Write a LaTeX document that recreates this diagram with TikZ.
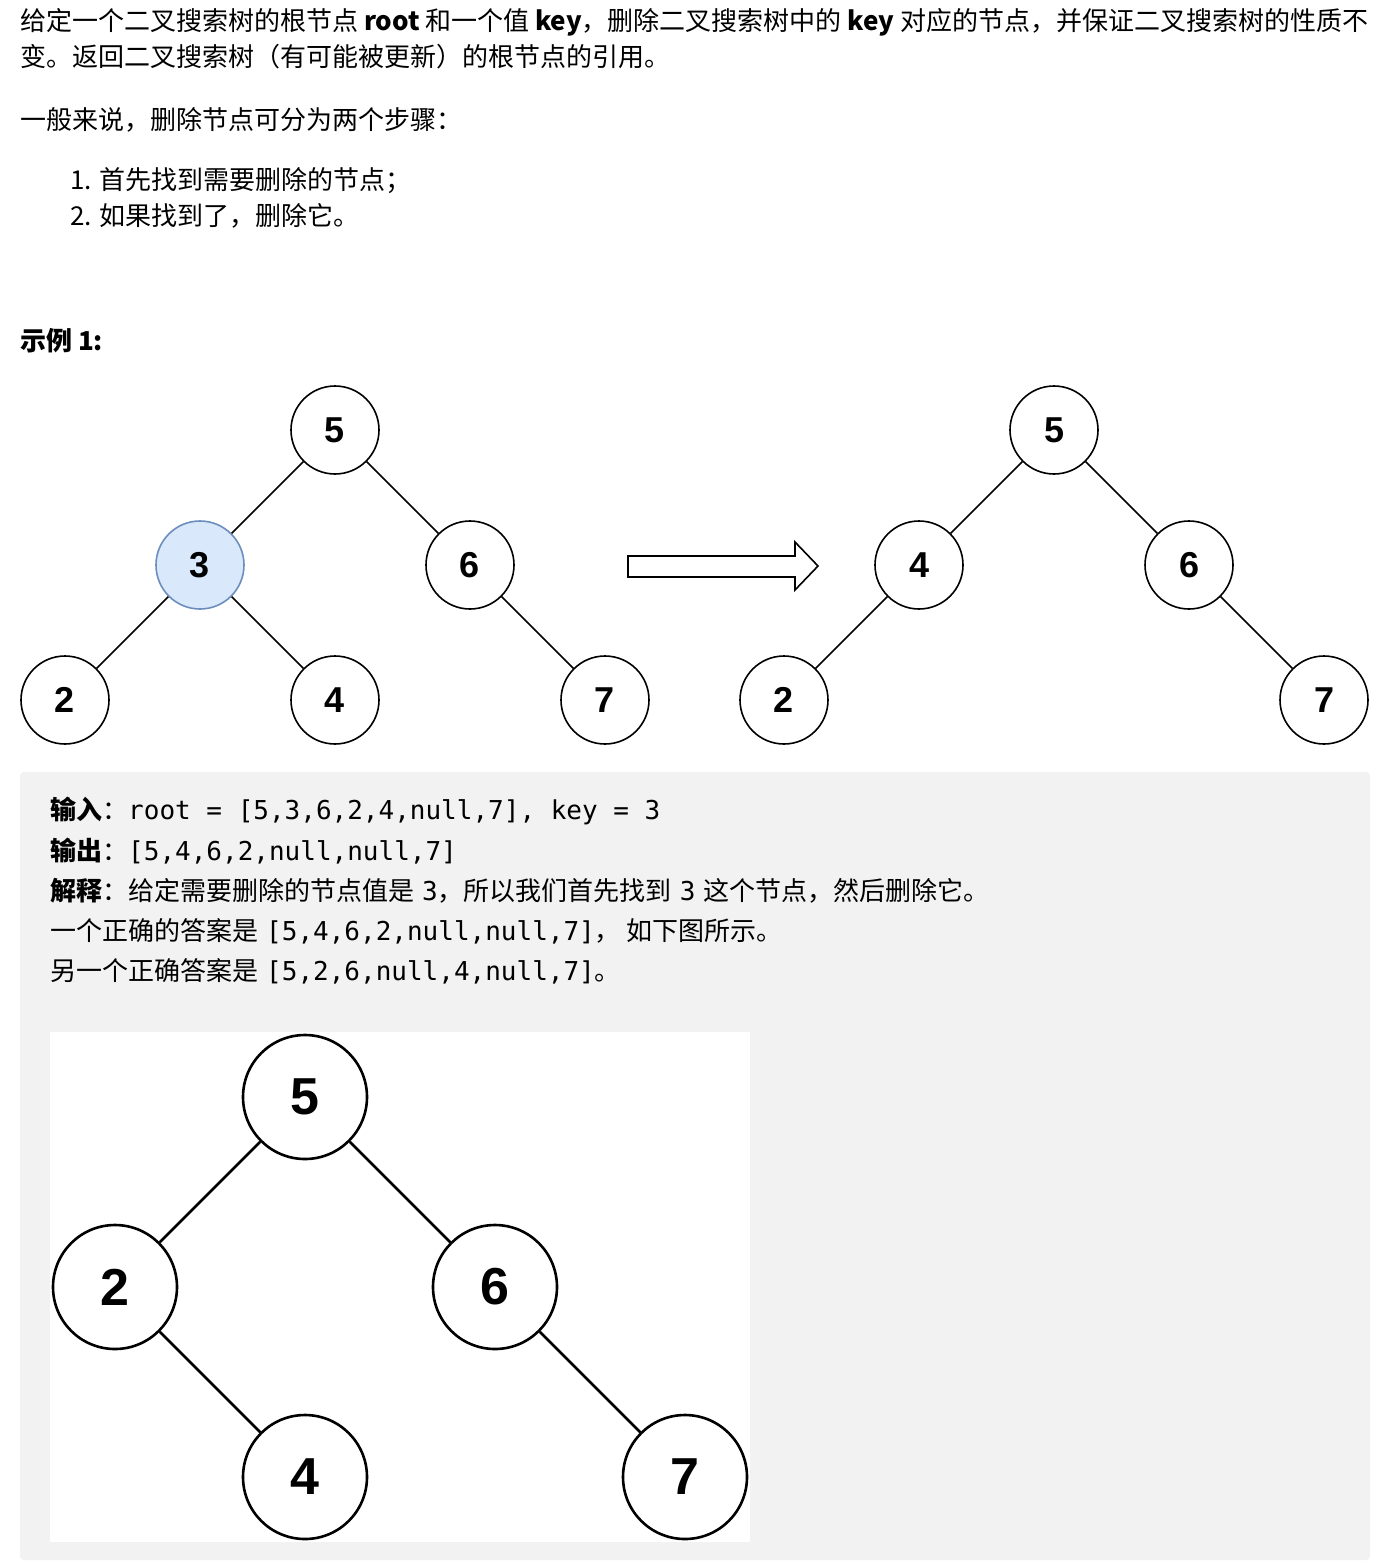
\documentclass[tikz,border=0pt]{standalone}
\usepackage{fontspec}
\setmainfont{Noto Sans CJK SC}
\setmonofont{DejaVu Sans Mono}
\newfontfamily\nodefont{Liberation Sans}
\definecolor{selblue}{HTML}{DAE8FC}
\definecolor{selline}{HTML}{6C8EBF}
\definecolor{boxgray}{HTML}{F2F2F2}
\newcommand\cd[1]{\texttt{\fontsize{26}{26}\selectfont #1}}
\newcommand\gap{\hspace{8pt}}
\begin{document}
\begin{tikzpicture}[x=1pt,y=-1pt,
  vtx/.style={circle,draw,line width=1.6pt,fill=white,minimum size=88pt,inner sep=0pt,font=\nodefont\fontsize{36}{36}\bfseries\selectfont},
  bigvtx/.style={circle,draw,line width=2.6pt,fill=white,minimum size=124pt,inner sep=0pt,font=\nodefont\fontsize{52}{52}\bfseries\selectfont},
  txt/.style={anchor=west,inner sep=0pt,font=\fontsize{26}{26}\selectfont}]
\useasboundingbox (0,0) rectangle (1396,1566);
\fill[white] (0,0) rectangle (1396,1566);

% intro text
\node[txt] (l1) at (20,22) {给定一个二叉搜索树的根节点 \textbf{root} 和一个值 \textbf{key}，删除二叉搜索树中的 \textbf{key} 对应的节点，并保证二叉搜索树的性质不};
\node[txt] (l2) at (20,57) {变。返回二叉搜索树（有可能被更新）的根节点的引用。};
\node[txt] (l3) at (20,120) {一般来说，删除节点可分为两个步骤：};
\node[txt] (l4) at (70,181) {1. 首先找到需要删除的节点；};
\node[txt] (l5) at (70,216) {2. 如果找到了，删除它。};
\node[txt] (ex) at (20,341) {\textbf{示例 1:}};

% tree before
\node[vtx] (a5) at (335,430) {5};
\node[vtx,fill=selblue,draw=selline] (a3) at (200,565) {3};
\node[vtx] (a6) at (470,565) {6};
\node[vtx] (a2) at (65,700) {2};
\node[vtx] (a4) at (335,700) {4};
\node[vtx] (a7) at (605,700) {7};
\foreach \u/\v in {a5/a3,a5/a6,a3/a2,a3/a4,a6/a7}
  \draw[line width=1.6pt] (\u) -- (\v);

% hollow arrow
\draw[line width=1.6pt,line join=miter] (628,556) -- (795,556) -- (795,542) -- (818,566)
  -- (795,590) -- (795,577) -- (628,577) -- cycle;

% tree after
\node[vtx] (b5) at (1054,430) {5};
\node[vtx] (b4) at (919,565) {4};
\node[vtx] (b6) at (1189,565) {6};
\node[vtx] (b2) at (784,700) {2};
\node[vtx] (b7) at (1324,700) {7};
\foreach \u/\v in {b5/b4,b5/b6,b4/b2,b6/b7}
  \draw[line width=1.6pt] (\u) -- (\v);

% example box
\fill[boxgray,rounded corners=4pt] (20,772) rectangle (1370,1560);
\node[txt] (c1) at (50,811) {\textbf{输入}：\cd{root = [5,3,6,2,4,null,7], key = 3}};
\node[txt] (c2) at (50,851) {\textbf{输出}：\cd{[5,4,6,2,null,null,7]}};
\node[txt] (c3) at (50,891) {\textbf{解释}：给定需要删除的节点值是\gap\cd{3}，所以我们首先找到\gap\cd{3}\gap 这个节点，然后删除它。};
\node[txt] (c4) at (50,931) {一个正确的答案是\gap\cd{[5,4,6,2,null,null,7]}， 如下图所示。};
\node[txt] (c5) at (50,971) {另一个正确答案是\gap\cd{[5,2,6,null,4,null,7]}。};

% other answer
\fill[white] (50,1032) rectangle (750,1542);
\node[bigvtx] (c5n) at (305,1097) {5};
\node[bigvtx] (c2n) at (115,1287) {2};
\node[bigvtx] (c6n) at (495,1287) {6};
\node[bigvtx] (c4n) at (305,1477) {4};
\node[bigvtx] (c7n) at (685,1477) {7};
\foreach \u/\v in {c5n/c2n,c5n/c6n,c2n/c4n,c6n/c7n}
  \draw[line width=2.6pt] (\u) -- (\v);
\end{tikzpicture}
\end{document}
